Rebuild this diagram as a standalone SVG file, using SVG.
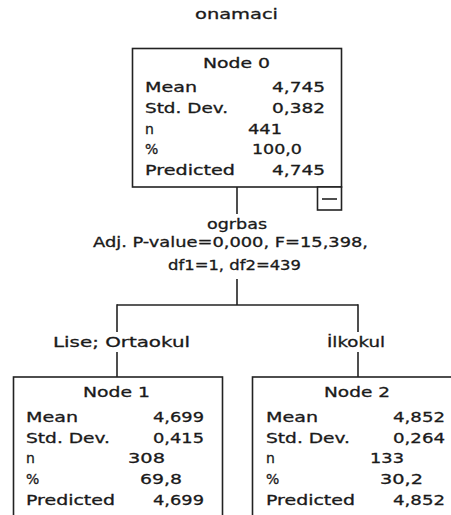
<svg xmlns="http://www.w3.org/2000/svg" width="451" height="515" viewBox="0 0 451 515">
<style>
text{font-family:"DejaVu Sans","Liberation Sans",sans-serif;font-size:14px;fill:#1a1a1a;stroke:#1a1a1a;stroke-width:0.3;}
.box{fill:#fff;stroke:#222;stroke-width:1.6;}
.ln{stroke:#222;stroke-width:1.6;fill:none;}
</style>
<rect x="0" y="0" width="451" height="515" fill="#fff"/>
<text x="195" y="19" textLength="83" lengthAdjust="spacingAndGlyphs">onamaci</text>
<g id="connectors">
<line class="ln" x1="237" y1="187" x2="237" y2="214"/>
<line class="ln" x1="237" y1="279" x2="237" y2="305"/>
<line class="ln" x1="117" y1="305" x2="358" y2="305"/>
<line class="ln" x1="117" y1="304.2" x2="117" y2="332"/>
<line class="ln" x1="117" y1="352" x2="117" y2="377"/>
<line class="ln" x1="358" y1="304.2" x2="358" y2="332"/>
<line class="ln" x1="358" y1="352" x2="358" y2="377"/>
<text x="207" y="229" textLength="60" lengthAdjust="spacingAndGlyphs">ogrbas</text>
<text x="93" y="247" textLength="275" lengthAdjust="spacingAndGlyphs">Adj. P-value=0,000, F=15,398,</text>
<text x="168" y="270" textLength="133" lengthAdjust="spacingAndGlyphs">df1=1, df2=439</text>
<text x="53" y="347" textLength="137" lengthAdjust="spacingAndGlyphs">Lise; Ortaokul</text>
<text x="327" y="347" textLength="58" lengthAdjust="spacingAndGlyphs">İlkokul</text>
</g>
<g id="node0">
<rect class="box" x="132.5" y="48.5" width="209" height="138.5"/>
<rect class="box" x="317.5" y="187" width="24" height="23"/>
<line class="ln" x1="322" y1="199" x2="337" y2="199"/>
<text x="203" y="68" textLength="67" lengthAdjust="spacingAndGlyphs">Node 0</text>
<text x="145" y="92" textLength="52" lengthAdjust="spacingAndGlyphs">Mean</text>
<text x="272" y="92" textLength="53" lengthAdjust="spacingAndGlyphs">4,745</text>
<text x="145" y="113" textLength="83" lengthAdjust="spacingAndGlyphs">Std. Dev.</text>
<text x="272" y="113" textLength="53" lengthAdjust="spacingAndGlyphs">0,382</text>
<text x="145" y="133.5">n</text>
<text x="248" y="133.5" textLength="34" lengthAdjust="spacingAndGlyphs">441</text>
<text x="145" y="154">%</text>
<text x="252" y="154" textLength="50" lengthAdjust="spacingAndGlyphs">100,0</text>
<text x="145" y="175" textLength="90" lengthAdjust="spacingAndGlyphs">Predicted</text>
<text x="272" y="175" textLength="53" lengthAdjust="spacingAndGlyphs">4,745</text>
</g>
<g id="node1">
<rect class="box" x="13.5" y="377" width="209" height="150"/>
<text x="83" y="397" textLength="67" lengthAdjust="spacingAndGlyphs">Node 1</text>
<text x="26" y="421.5" textLength="52" lengthAdjust="spacingAndGlyphs">Mean</text>
<text x="153" y="421.5" textLength="51" lengthAdjust="spacingAndGlyphs">4,699</text>
<text x="26" y="442.5" textLength="84" lengthAdjust="spacingAndGlyphs">Std. Dev.</text>
<text x="153" y="442.5" textLength="51" lengthAdjust="spacingAndGlyphs">0,415</text>
<text x="26" y="463">n</text>
<text x="128" y="463" textLength="37" lengthAdjust="spacingAndGlyphs">308</text>
<text x="26" y="483.5">%</text>
<text x="140" y="483.5" textLength="42" lengthAdjust="spacingAndGlyphs">69,8</text>
<text x="26" y="505" textLength="89" lengthAdjust="spacingAndGlyphs">Predicted</text>
<text x="153" y="505" textLength="51" lengthAdjust="spacingAndGlyphs">4,699</text>
</g>
<g id="node2">
<rect class="box" x="252.5" y="377" width="209" height="150"/>
<text x="324" y="397" textLength="66" lengthAdjust="spacingAndGlyphs">Node 2</text>
<text x="266" y="421.5" textLength="52" lengthAdjust="spacingAndGlyphs">Mean</text>
<text x="393" y="421.5" textLength="52" lengthAdjust="spacingAndGlyphs">4,852</text>
<text x="266" y="442.5" textLength="84" lengthAdjust="spacingAndGlyphs">Std. Dev.</text>
<text x="393" y="442.5" textLength="52" lengthAdjust="spacingAndGlyphs">0,264</text>
<text x="266" y="463">n</text>
<text x="370" y="463" textLength="34" lengthAdjust="spacingAndGlyphs">133</text>
<text x="266" y="483.5">%</text>
<text x="380" y="483.5" textLength="43" lengthAdjust="spacingAndGlyphs">30,2</text>
<text x="266" y="505" textLength="89" lengthAdjust="spacingAndGlyphs">Predicted</text>
<text x="393" y="505" textLength="52" lengthAdjust="spacingAndGlyphs">4,852</text>
</g>
</svg>
